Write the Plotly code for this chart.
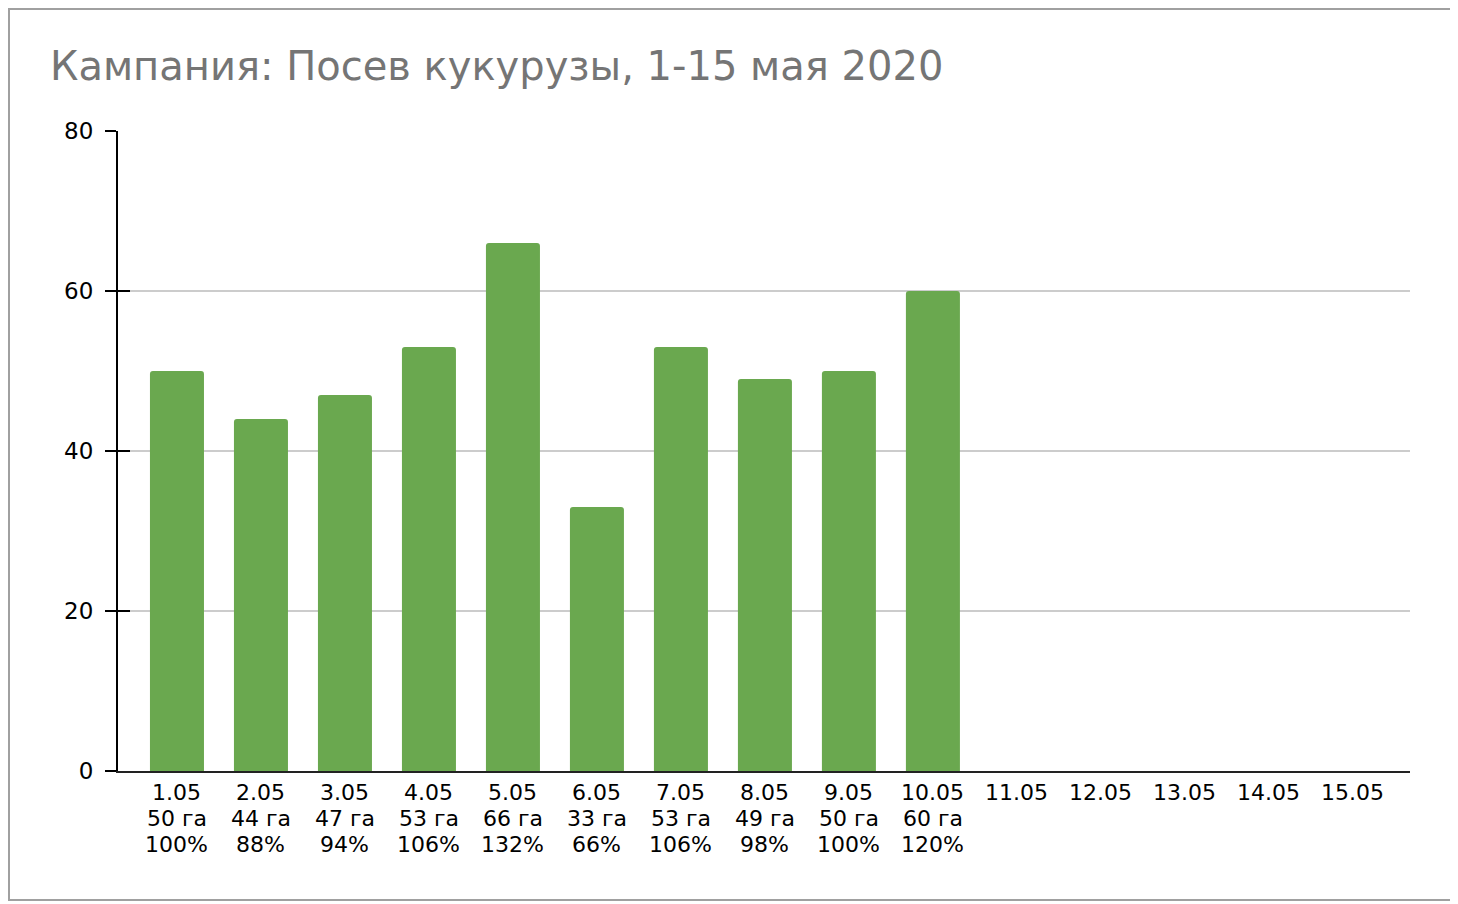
import plotly.graph_objects as go

dates = ["1.05", "2.05", "3.05", "4.05", "5.05", "6.05", "7.05", "8.05",
         "9.05", "10.05", "11.05", "12.05", "13.05", "14.05", "15.05"]
hectares = [50, 44, 47, 53, 66, 33, 53, 49, 50, 60, None, None, None, None, None]
percents = [100, 88, 94, 106, 132, 66, 106, 98, 100, 120, None, None, None, None, None]
y_ticks = [0, 20, 40, 60, 80]

# page has an 8px body margin, so the figure is laid out 8px smaller
W, H = 1450, 896
L, R, T, B = 110, 48, 123, 133
pw, ph = W - L - R, H - T - B

def px_x(px):
    return (px - L) / pw

def px_y(py):
    return (H - B - py) / ph

fig = go.Figure()
fig.add_trace(go.Bar(
    x=dates, y=hectares, marker_color="#6aa84f", marker_line_width=0,
    hoverinfo="skip", showlegend=False,
))
fig.add_trace(go.Scatter(x=[dates[0]], y=[None], yaxis="y2", showlegend=False,
                         hoverinfo="skip", mode="lines"))

label_font = dict(family="DejaVu Sans", size=22, color="black")
annotations = []
for idx, (d, h, p) in enumerate(zip(dates, hectares, percents)):
    lines = [d] if h is None else [d, f"{h} га", f"{p}%"]
    for i, txt in enumerate(lines):
        annotations.append(dict(
            x=idx, xref="x", y=px_y(784 + i * 26), yref="paper",
            text=txt, showarrow=False, xanchor="center", yanchor="middle",
            font=label_font,
        ))

fig.update_layout(
    width=W, height=H,
    margin=dict(l=L, r=R, t=T, b=B, pad=0),
    paper_bgcolor="white", plot_bgcolor="white",
    bargap=0.357, barcornerradius=3,
    font=dict(family="DejaVu Sans", size=22, color="black"),
    title=dict(text="Кампания: Посев кукурузы, 1-15 мая 2020",
               font=dict(family="DejaVu Sans", size=40, color="#757575"),
               x=42 / W, xanchor="left", y=1 - 58 / H, yanchor="middle"),
    xaxis=dict(type="category", categoryorder="array", categoryarray=dates,
               range=[-0.702, 14.68], autorange=False,
               showticklabels=False, ticks="", showgrid=False,
               showline=True, linecolor="#222222", linewidth=2),
    yaxis=dict(range=[0, 80], tickvals=y_ticks, showgrid=True, gridcolor="#cccccc",
               gridwidth=1.5, zeroline=False, showline=True, linecolor="black",
               linewidth=2, ticks="outside", ticklen=11, tickwidth=2,
               tickcolor="black", ticklabelstandoff=7,
               tickfont=dict(family="DejaVu Sans", size=23, color="black")),
    yaxis2=dict(range=[0, 80], overlaying="y", side="left", tickvals=y_ticks,
                showticklabels=False, showgrid=False, zeroline=False,
                ticks="inside", ticklen=12, tickwidth=2, tickcolor="black",
                showline=False),
    annotations=annotations,
    shapes=[
        dict(type="rect", xref="paper", yref="paper",
             x0=px_x(1), x1=px_x(1446), y0=px_y(892), y1=px_y(1),
             line=dict(color="#a0a0a0", width=2), fillcolor="rgba(0,0,0,0)",
             layer="below"),
    ],
)

fig.write_html("out.html")
